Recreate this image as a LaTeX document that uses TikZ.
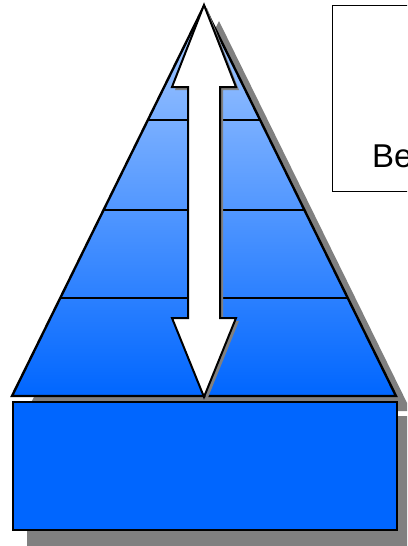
\documentclass[tikz,border=0pt]{standalone}
\usepackage{fontspec}
\setmainfont{Liberation Sans}
\usetikzlibrary{calc}
\definecolor{ctop}{RGB}{170,204,255}
\definecolor{cblue}{RGB}{0,102,255}
\definecolor{cshade}{RGB}{128,128,128}

\begin{document}
\begin{tikzpicture}[x=1pt, y=-1pt,
      edge/.style={draw=black, line width=2.4pt, line join=miter},
      layer/.style={draw=black, line width=1.4pt},
      shade/.style={fill=cshade},
      arrowbox/.style={draw=black, line width=2pt, fill=white, line join=miter}
    ]
    \clip (0,0) rectangle (407,546);
    \coordinate (apex) at (204,6);
    \coordinate (bl) at (12,396);
    \coordinate (br) at (396,396);
    % shadows
    \fill[shade] ($(apex)+(15,15)$) -- ($(bl)+(15,15)$) -- ($(br)+(15,15)$) -- cycle;
    \fill[shade] (27,416) rectangle (420,560);
    % pyramid
    \shade[top color=ctop, bottom color=cblue] (apex) -- (bl) -- (br) -- cycle;
    \foreach \t in {0.292, 0.523, 0.749}
      \draw[layer] ($(apex)!\t!(bl)$) -- ($(apex)!\t!(br)$);
    \draw[edge] (apex) -- (bl) -- (br) -- cycle;
    % double arrow
    \fill[shade, shift={(3,3)}] (204,5) -- (236,87) -- (220,87) -- (220,318) -- (236,318) -- (204,397)
      -- (172,318) -- (188,318) -- (188,87) -- (172,87) -- cycle;
    \draw[arrowbox] (204,5) -- (236,87) -- (220,87) -- (220,318) -- (236,318) -- (204,397)
      -- (172,318) -- (188,318) -- (188,87) -- (172,87) -- cycle;
    % base
    \node[edge, fill=cblue, anchor=north west, inner sep=0pt, minimum width=384pt, minimum height=128pt] (base) at (12,401) {};
    % text box
    \node[draw=black, line width=1.2pt, fill=white, anchor=north west, inner sep=0pt, minimum width=110pt, minimum height=186pt] (note) at (332,5) {};
    \node[anchor=base west, inner sep=0pt, font=\fontsize{33}{40}\selectfont] (lbl) at (372,167) {Be};
  \end{tikzpicture}
\end{document}
